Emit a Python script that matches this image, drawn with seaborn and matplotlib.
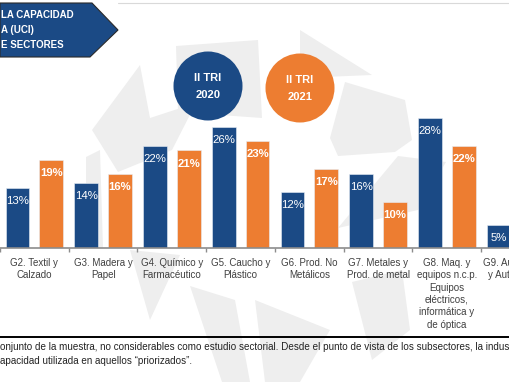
import numpy as np
import pandas as pd
import matplotlib
matplotlib.use('Agg')
import matplotlib.pyplot as plt
from matplotlib.patches import Polygon, Circle
import seaborn as sns

# data
sectores = ['G2. Textil y\nCalzado', 'G3. Madera y\nPapel', 'G4. Químico y\nFarmacéutico',
            'G5. Caucho y\nPlástico', 'G6. Prod. No\nMetálicos', 'G7. Metales y\nProd. de metal',
            'G8. Maq. y\nequipos n.c.p.\nEquipos\neléctricos,\ninformática y\nde óptica',
            'G9. Automotriz\ny Autopartes']
periodos = ['II TRI 2020', 'II TRI 2021']
uci_2020 = [13, 14, 22, 26, 12, 16, 28, 5]
uci_2021 = [19, 16, 21, 23, 17, 10, 22, np.nan]   # G9 2021 is off the crop

AZUL = '#1b4a85'
NARANJA = '#ed7d31'
GRIS_MARCA = '#eeeeee'

titulo = ['LA CAPACIDAD', 'A (UCI)', 'E SECTORES']
nota = ['onjunto de la muestra, no considerables como estudio sectorial. Desde el punto de vista de los subsectores, la indus',
        'apacidad utilizada en aquellos \u201cpriorizados\u201d.']

df = pd.DataFrame({
    'sector': sectores * 2,
    'periodo': [periodos[0]] * len(sectores) + [periodos[1]] * len(sectores),
    'uci': uci_2020 + uci_2021,
})

sns.set_theme(style='white')
plt.rcParams['font.family'] = ['Liberation Sans', 'DejaVu Sans']

W, H = 510, 382
fig = plt.figure(figsize=(W / 100, H / 100), dpi=100)
fig.patch.set_facecolor('white')


def px(x, y):
    # top-left pixel coords -> inches for dpi_scale_trans
    return (x / 100, (H - y) / 100)


# faint logo watermark behind everything
marca = [
    [(92, 130), (140, 65), (150, 118), (196, 103), (172, 150), (118, 172)],
    [(86, 157), (100, 150), (103, 248), (86, 248)],
    [(176, 46), (258, 40), (262, 118), (178, 112)],
    [(300, 30), (372, 75), (300, 78)],
    [(345, 82), (405, 100), (412, 140), (395, 152), (338, 156), (330, 138)],
    [(338, 228), (398, 156), (446, 162), (418, 210)],
    [(190, 286), (235, 300), (250, 382), (222, 382)],
    [(255, 300), (330, 330), (300, 382), (265, 382)],
    [(352, 282), (402, 270), (410, 330), (372, 360)],
    [(130, 250), (180, 255), (150, 320)],
]
for pts in marca:
    fig.add_artist(Polygon([px(*p) for p in pts], closed=True, facecolor=GRIS_MARCA,
                           edgecolor='none', transform=fig.dpi_scale_trans, zorder=-1))

ax = fig.add_axes([0, (H - 248) / H, 1, 139.5 / H])
ax.patch.set_alpha(0)

sns.barplot(data=df, x='sector', y='uci', hue='periodo', order=sectores, hue_order=periodos,
            palette=[AZUL, NARANJA], saturation=1, width=0.98, gap=0.3, edgecolor='#e8eef6',
            linewidth=0.4, legend=False, ax=ax, zorder=2)

for cont, peso in zip(ax.containers, ['normal', 'bold']):
    for rect in cont:
        h = rect.get_height()
        if np.isnan(h):
            continue
        ax.annotate(f'{h:.0f}%', (rect.get_x() + rect.get_width() / 2, h),
                    xytext=(0, -9.5), textcoords='offset points', ha='center', va='center',
                    color='white', fontsize=8.2, fontweight=peso, zorder=3)

ax.set_xlabel('')
ax.set_ylabel('')
ax.set_yticks([])
for s in ['left', 'right', 'top']:
    ax.spines[s].set_visible(False)
ax.spines['bottom'].set_color('#8c8c8c')
ax.spines['bottom'].set_linewidth(1.2)
ax.set_xticks(np.arange(len(sectores)) - 0.5, minor=True)
ax.set_xticks(np.arange(len(sectores)))
ax.set_xticklabels(sectores, fontsize=7, color='#404040', linespacing=1.3)
ax.tick_params(axis='x', which='major', length=0, pad=7)
ax.tick_params(axis='x', which='minor', length=3, width=1, color='#8c8c8c', direction='out',
               bottom=True)
# limits last: set_xticks can widen them
ax.set_xlim(-0.5, -0.5 + W / 68.75)
ax.set_ylim(0, 30)

# the last category sits past the crop, so its tick label is drawn by hand
ax.annotate(sectores[-1], xy=(len(sectores) - 1, 0), xycoords=('data', 'axes fraction'),
            xytext=(0, -7), textcoords='offset points', ha='center', va='top',
            fontsize=7, color='#404040', linespacing=1.3, annotation_clip=False)

# title arrow (cropped)
flecha = [(0, 3), (92, 3), (118, 30), (90, 57), (0, 57)]
fig.add_artist(Polygon([px(*p) for p in flecha], closed=True, facecolor=AZUL, edgecolor='#2a2a2a',
                       linewidth=0.8, transform=fig.dpi_scale_trans, zorder=3))
for t, y in zip(titulo, [15, 30, 45]):
    fig.text(1 / W, 1 - y / H, t, color='white', fontsize=7, fontweight='bold',
             ha='left', va='center', zorder=4)
fig.add_artist(plt.Line2D([118 / W, 1], [1 - 3 / H, 1 - 3 / H], color='#d9d9d9', lw=0.8))

# period badges
for (cx, cy), color, per in zip([(208, 86), (300, 88)], [AZUL, NARANJA], periodos):
    fig.add_artist(Circle(px(cx, cy), 0.345, facecolor=color, edgecolor='none',
                          transform=fig.dpi_scale_trans, zorder=3))
    a, b = per.rsplit(' ', 1)
    fig.text(cx / W, 1 - (cy - 8) / H, a, color='white', fontsize=8, fontweight='bold',
             ha='center', va='center', zorder=4)
    fig.text(cx / W, 1 - (cy + 9) / H, b, color='white', fontsize=8, fontweight='bold',
             ha='center', va='center', zorder=4)

# footer
fig.add_artist(plt.Line2D([0, 1], [1 - 337 / H, 1 - 337 / H], color='black', lw=1.4))
for t, y in zip(nota, [347.5, 361]):
    fig.text(0, 1 - y / H, t, color='#222222', fontsize=7.1, ha='left', va='center')

fig.savefig('out.png', dpi=100)
